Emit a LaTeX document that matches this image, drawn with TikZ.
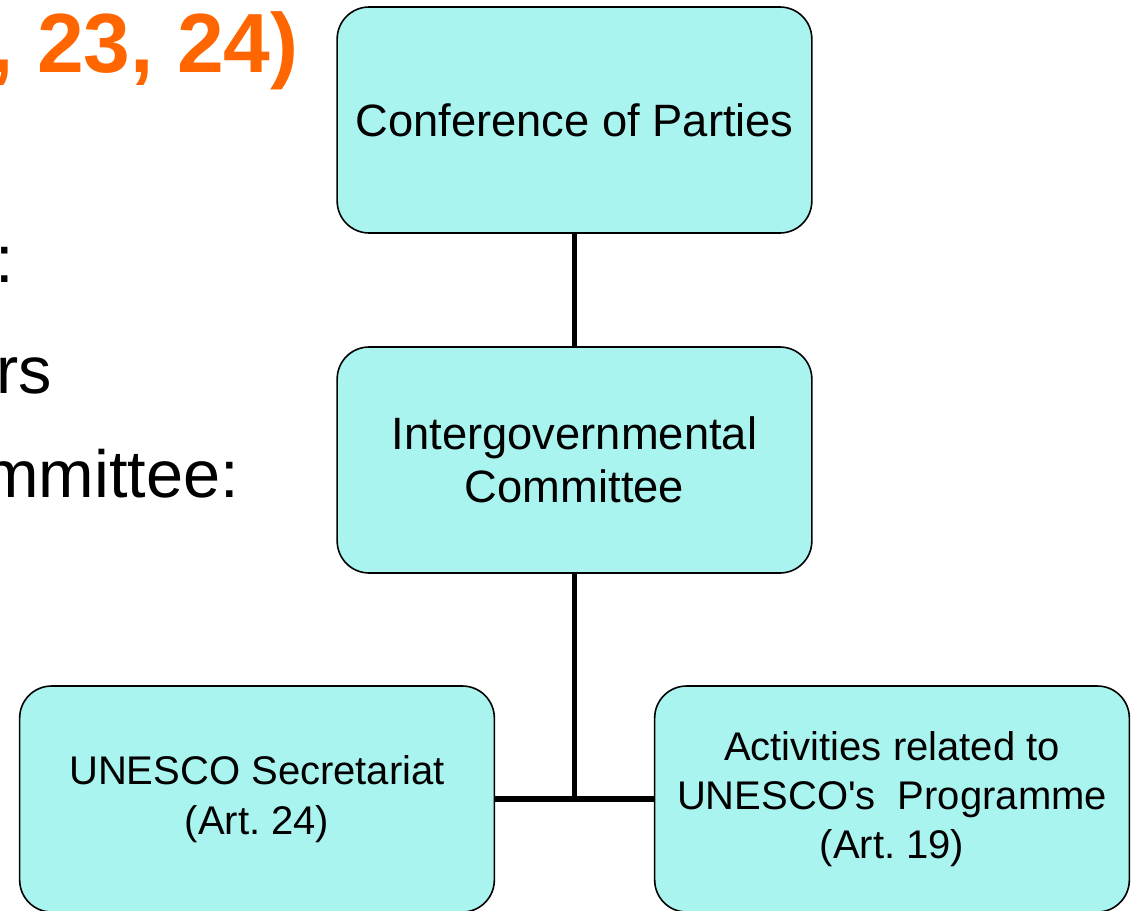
\documentclass[tikz,border=0pt]{standalone}
\usepackage{fontspec}
\setmainfont{Liberation Sans}
\usetikzlibrary{positioning}
\frenchspacing
\definecolor{boxcyan}{RGB}{170,244,240}
\definecolor{titleorange}{RGB}{255,102,0}
\tikzset{%
  orgbox/.style = { draw=black, line width=1.2pt, fill=boxcyan, rounded corners=24pt, align=center, minimum width=356pt, minimum height=169.5pt, inner sep=0pt },
  bigtext/.style = { font=\fontsize{34}{40}\selectfont },
  smalltext/.style = { font=\fontsize{30}{37}\selectfont },
  link/.style = { draw=black, line width=3.8pt },
  slidetext/.style = { anchor=base east, inner sep=0pt, font=\fontsize{50}{60}\selectfont }
}
\begin{document}
\begin{tikzpicture}[x=0.75pt, y=-0.75pt]

  \useasboundingbox (0,0) rectangle (1138,910);

  % slide text, cut off on the left
  \node[slidetext, text=titleorange, font=\fontsize{63}{75}\selectfont\bfseries] (title) at (299,72) {, 23, 24)};
  \node[slidetext] (colon) at (14,282) {:};
  \node[slidetext] (ers) at (52,393) {rs};
  \node[slidetext] (cmte) at (239,497) {mmittee:};

  % Boxes
  \node[orgbox, bigtext] (cop) at (574.5,120) {Conference of Parties};
  \node[orgbox, bigtext] (igc) at (574.5,460) {Intergovernmental\\Committee};
  \node[orgbox, smalltext] (sec) at (257,799) {UNESCO Secretariat\\(Art. 24)};
  \node[orgbox, smalltext] (act) at (892,799) {Activities related to\\UNESCO\textquotesingle s~ Programme\\(Art. 19)};

  % Links
  \coordinate (jn) at (igc.south |- sec.east);
  \draw[link] (cop) -- (igc);
  \draw[link] (igc) -- (jn);
  \draw[link] (sec) -- (act);

\end{tikzpicture}
\end{document}
